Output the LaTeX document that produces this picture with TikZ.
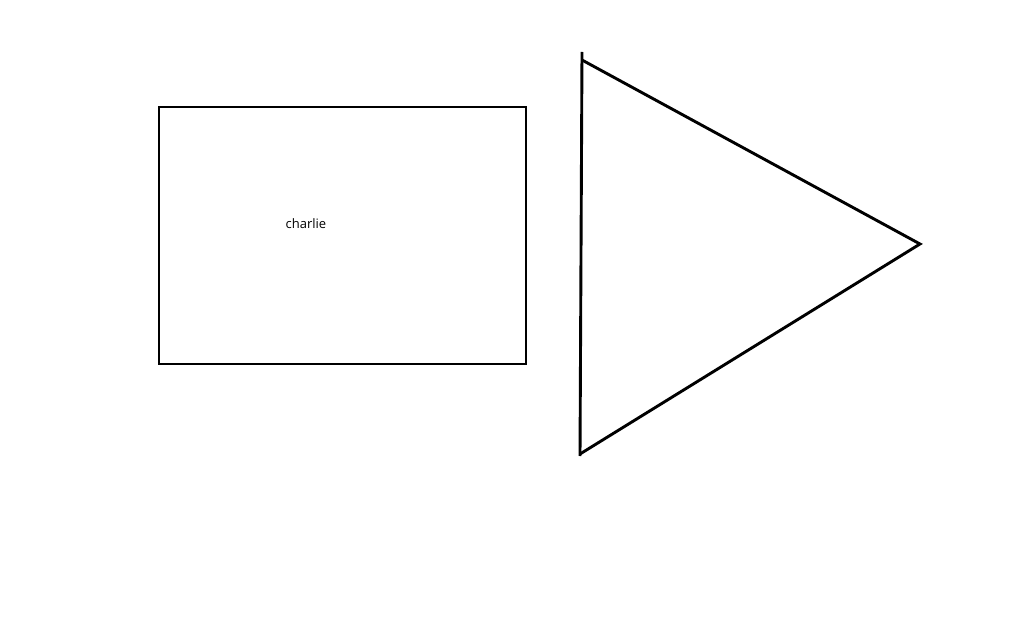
\documentclass[tikz,border=0pt]{standalone}
\usepackage{fontspec}
\setmainfont{Open Sans}
\begin{document}
\begin{tikzpicture}[x=1pt,y=-1pt,
  shape line/.style={line width=2.9pt,black},
  label text/.style={font=\fontsize{13}{15}\selectfont,inner sep=0pt}]
\useasboundingbox[fill=white] (0,0) rectangle (1028,620);
\draw[shape line] (159,107) rectangle (526,364);
\node[label text] (charlie) at (306,224) {charlie};
\coordinate (vtop) at (582,52);
\coordinate (vbot) at (580,456);
\coordinate (ttop) at (582,60);
\coordinate (tip) at (920,244);
\coordinate (tbot) at (580,454);
\draw[shape line] (vtop) -- (vbot);
\draw[shape line,line join=miter] (ttop) -- (tip) -- (tbot);
\end{tikzpicture}
\end{document}
